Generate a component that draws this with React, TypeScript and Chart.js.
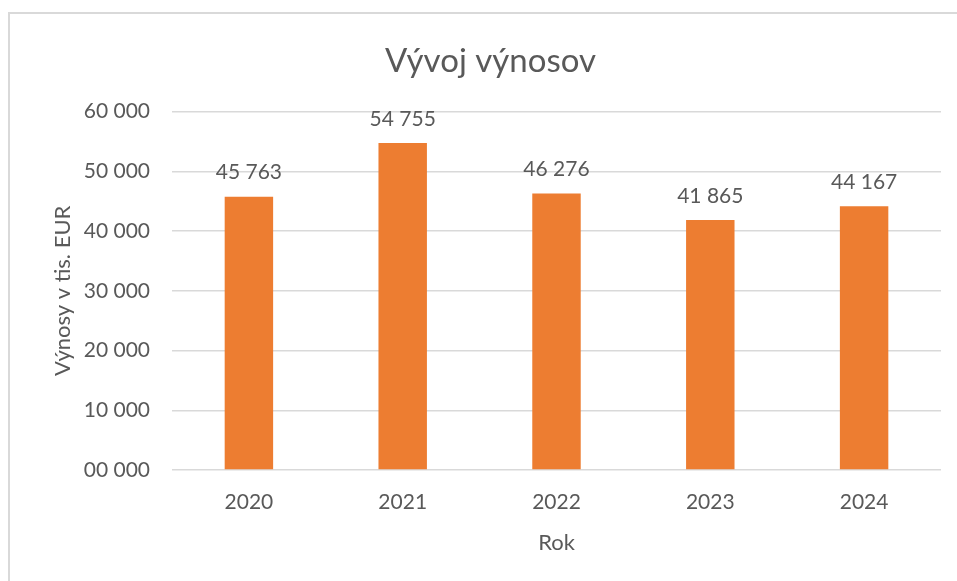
import React, { useEffect, useRef } from "react";
import { Chart, registerables } from "chart.js";

Chart.register(...registerables);

const years = ["2020", "2021", "2022", "2023", "2024"];
const revenues = [45763, 54755, 46276, 41865, 44167];
const chartTitle = "Vývoj výnosov";
const yTitle = "Výnosy v tis. EUR";
const xTitle = "Rok";

const FONT = "Lato, 'Open Sans', sans-serif";
const TEXT = "#595959";
const GRID = "#d9d9d9";
const BAR = "#ED7D31";

function fmt(v: number, pad: boolean) {
  let s = String(Math.round(v));
  if (pad) s = s.padStart(5, "0");
  return s.length > 3 ? s.slice(0, -3) + " " + s.slice(-3) : s;
}

const dataLabels = {
  id: "dataLabels",
  afterDatasetsDraw(chart: any) {
    const ctx = chart.ctx;
    const meta = chart.getDatasetMeta(0);
    ctx.save();
    ctx.font = `21px ${FONT}`;
    ctx.fillStyle = TEXT;
    ctx.textAlign = "center";
    ctx.textBaseline = "middle";
    meta.data.forEach((el: any, i: number) => {
      const v = chart.data.datasets[0].data[i] as number;
      ctx.fillText(fmt(v, false), el.x, el.y - 24);
    });
    ctx.restore();
  },
};

export default function App() {
  const ref = useRef<HTMLCanvasElement>(null);
  useEffect(() => {
    if (!ref.current) return;
    const chart = new Chart(ref.current, {
      type: "bar",
      data: {
        labels: years,
        datasets: [
          {
            data: revenues,
            backgroundColor: BAR,
            borderWidth: 0,
            categoryPercentage: 1,
            barPercentage: 0.315,
          },
        ],
      },
      options: {
        animation: false,
        responsive: false,
        maintainAspectRatio: false,
        layout: { padding: { left: 40, right: 16, top: 13, bottom: 20 } },
        plugins: {
          legend: { display: false },
          tooltip: { enabled: false },
          title: {
            display: true,
            text: chartTitle,
            color: TEXT,
            font: { family: FONT, size: 33, weight: "normal" },
            padding: { top: 29, bottom: 30 },
          },
        },
        scales: {
          x: {
            grid: { display: false },
            border: { display: false },
            ticks: {
              color: TEXT,
              font: { family: FONT, size: 21 },
              padding: 12,
              maxRotation: 0,
            },
            title: {
              display: true,
              text: xTitle,
              color: TEXT,
              font: { family: FONT, size: 22 },
              padding: { top: 0, bottom: 5 },
            },
            afterFit(scale: any) {
              scale.height = 91;
            },
          },
          y: {
            min: 0,
            max: 60000,
            grid: { color: GRID, lineWidth: 1.5, drawTicks: false },
            border: { display: false },
            ticks: {
              stepSize: 10000,
              color: TEXT,
              font: { family: FONT, size: 21 },
              padding: 22,
              callback: (v: any) => fmt(Number(v), true),
            },
            title: {
              display: true,
              text: yTitle,
              color: TEXT,
              font: { family: FONT, size: 22 },
              padding: { top: 10, bottom: 0 },
            },
            afterFit(scale: any) {
              scale.width = 132;
            },
          },
        },
      },
      plugins: [dataLabels],
    });
    return () => chart.destroy();
  }, []);

  return (
    <div
      style={{
        position: "fixed",
        left: 0,
        top: 0,
        width: 957,
        height: 581,
        overflow: "hidden",
        background: "#fff",
      }}
    >
      <div
        style={{
          position: "absolute",
          left: 8,
          top: 12,
          width: 1200,
          height: 1200,
          border: "2px solid #d9d9d9",
          boxSizing: "border-box",
        }}
      />
      <canvas
        ref={ref}
        width={957}
        height={581}
        style={{ position: "absolute", left: 0, top: 0, width: 957, height: 581 }}
      />
    </div>
  );
}
